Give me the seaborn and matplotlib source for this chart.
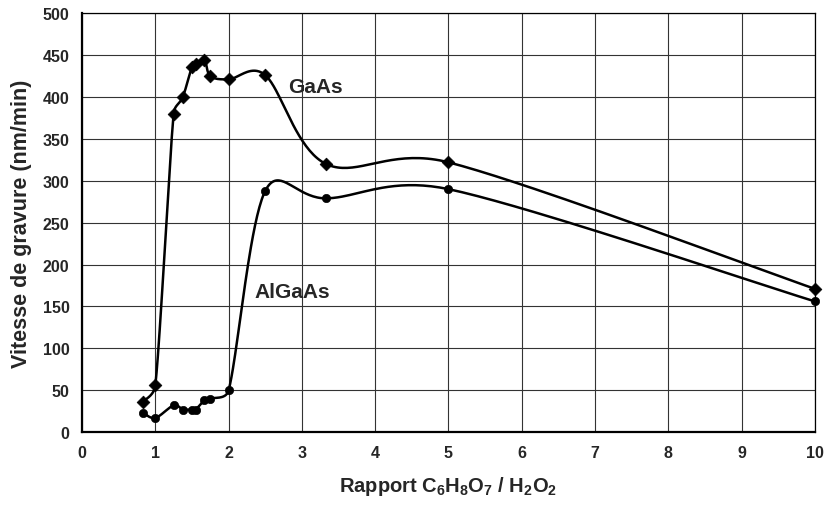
import numpy as np
import pandas as pd
import matplotlib
matplotlib.use("Agg")
import matplotlib.pyplot as plt
import seaborn as sns

# Data
gaas_x = [0.83, 1.0, 1.25, 1.375, 1.5, 1.55, 1.67, 1.75, 2.0, 2.5, 3.33, 5.0, 10.0]
gaas_y = [36, 56, 380, 400, 436, 439, 444, 425, 421, 426, 320, 322, 171]
algaas_x = [0.83, 1.0, 1.25, 1.375, 1.5, 1.55, 1.67, 1.75, 2.0, 2.5, 3.33, 5.0, 10.0]
algaas_y = [23, 17, 32, 27, 27, 27, 38, 40, 50, 288, 279, 290, 156]
x_ticks = list(range(0, 11))
y_ticks = list(range(0, 501, 50))

# approximate pixel scale of the axes (smoothing is done in display space)
SX, SY = 73.3, 0.838


def smooth(xs, ys, n=40):
    P = np.column_stack([np.asarray(xs, float) * SX, np.asarray(ys, float) * SY])
    m = len(P)
    cin = np.zeros_like(P)
    cout = np.zeros_like(P)
    for i in range(m):
        pp = P[max(i - 1, 0)]
        pn = P[min(i + 1, m - 1)]
        h = (pn - pp) / 6.0
        hl = np.linalg.norm(h)
        lp = np.linalg.norm(P[i] - pp)
        ln = np.linalg.norm(pn - P[i])
        ho = h * min(1.0, 0.5 * ln / hl) if hl > 0 else h
        hi = h * min(1.0, 0.5 * lp / hl) if hl > 0 else h
        cout[i] = P[i] + ho
        cin[i] = P[i] - hi
    out = []
    for i in range(m - 1):
        p1, c1, c2, p2 = P[i], cout[i], cin[i + 1], P[i + 1]
        t = np.linspace(0, 1, n, endpoint=(i == m - 2))[:, None]
        b = ((1 - t) ** 3) * p1 + 3 * ((1 - t) ** 2) * t * c1 + 3 * (1 - t) * t ** 2 * c2 + t ** 3 * p2
        out.append(b)
    c = np.vstack(out)
    return c[:, 0] / SX, c[:, 1] / SY


sns.set_style("white")
plt.rcParams['font.family'] = ['Liberation Sans', 'DejaVu Sans']
plt.rcParams['mathtext.fontset'] = 'custom'
plt.rcParams['mathtext.rm'] = 'Liberation Sans:bold'
plt.rcParams['mathtext.bf'] = 'Liberation Sans:bold'

fig = plt.figure(figsize=(8.29, 5.06), dpi=100)
ax = fig.add_axes([0.099, 0.144, 0.884, 0.828])

for xs, ys, mk, ms in [(gaas_x, gaas_y, 'D', 42), (algaas_x, algaas_y, 'o', 36)]:
    cx, cy = smooth(xs, ys)
    dfc = pd.DataFrame({'x': cx, 'y': cy})
    sns.lineplot(data=dfc, x='x', y='y', sort=False, color='black', lw=1.8, ax=ax, zorder=3)
    dfp = pd.DataFrame({'x': xs, 'y': ys})
    sns.scatterplot(data=dfp, x='x', y='y', marker=mk, s=ms, color='black', edgecolor='black',
                    ax=ax, zorder=4, clip_on=False)

ax.set_xlim(0, 10)
ax.set_ylim(0, 500)
ax.set_xticks(x_ticks)
ax.set_yticks(y_ticks)
ax.grid(True, color='#333333', lw=0.8)
ax.set_axisbelow(True)
for s in ax.spines.values():
    s.set_color('black')
    s.set_linewidth(0.9)
ax.spines['left'].set_linewidth(1.6)
ax.spines['bottom'].set_linewidth(1.6)
ax.tick_params(axis='both', direction='out', length=4, width=0.8, color='black',
               labelsize=11.5, pad=5)
for lab in ax.get_xticklabels() + ax.get_yticklabels():
    lab.set_fontweight('bold')

ax.set_xlabel('Rapport C$_{6}$H$_{8}$O$_{7}$ / H$_{2}$O$_{2}$',
              fontsize=14.5, fontweight='bold', labelpad=10)
ax.set_ylabel('Vitesse de gravure (nm/min)', fontsize=15.5, fontweight='bold', labelpad=8)

ax.text(3.18, 413, 'GaAs', fontsize=15, fontweight='bold', ha='center', va='center')
ax.text(2.87, 168, 'AlGaAs', fontsize=15, fontweight='bold', ha='center', va='center')

fig.savefig('out.png', dpi=100)
